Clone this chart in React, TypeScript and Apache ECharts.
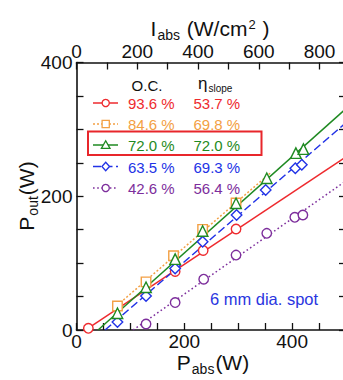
import React, { useEffect, useRef } from "react";
import * as echarts from "echarts";

// ---- data ----
const seriesNames = ["O.C. 93.6 %", "O.C. 84.6 %", "O.C. 72.0 %", "O.C. 63.5 %", "O.C. 42.6 %"];
const ocLabels = ["93.6 %", "84.6 %", "72.0 %", "63.5 %", "42.6 %"];
const slopeLabels = ["53.7 %", "69.8 %", "72.0 %", "69.3 %", "56.4 %"];

const redPabs = [22, 183, 235, 296];
const redPout = [2.5, 87.5, 119, 151];
const orangePabs = [76, 129, 180, 234, 296];
const orangePout = [36, 72, 111, 150.5, 190];
const greenPabs = [76, 129, 183, 234, 296, 353, 407, 421];
const greenPout = [25, 64, 106, 148, 189.5, 227, 264.5, 270.5];
const bluePabs = [76, 129, 183, 234, 297, 351, 406, 418];
const bluePout = [12, 51, 92, 132, 172, 209.5, 242, 247];
const purplePabs = [129, 183, 236, 296, 353, 405, 420];
const purplePout = [9, 41, 76, 112, 144.5, 168.5, 172];

// linear fits (endpoints)
const redFit = [[22, 2.7], [500, 259]];
const orangeFit = [[70, 33], [360, 235]];
const greenFit = [[40, 0], [500, 331]];
const blueFit = [[53, 0], [500, 310]];
const purpleFit = [[105, 0], [500, 223]];

const xTicksMajor = [0, 200, 400];
const yTicksMajor = [0, 200, 400];
const topTicksMajor = [0, 200, 400, 600, 800];

const colors = ["#ee2a2e", "#f3a044", "#1f8a22", "#2233e6", "#7d2e9c"];
const symbols = ["circle", "rect", "triangle", "diamond", "circle"];
const dashes: any[] = ["solid", [2, 2], "solid", [8, 3.5], [1.6, 2.6]];

const FONT = '"Liberation Sans", Arial, Helvetica, sans-serif';

function zip(a: number[], b: number[]) {
  return a.map((v, i) => [v, b[i]]);
}

export default function App() {
  const ref = useRef<HTMLDivElement>(null);
  useEffect(() => {
    if (!ref.current) return;
    const chart = echarts.init(ref.current, undefined, { renderer: "svg" });

    const pts = [
      zip(redPabs, redPout),
      zip(orangePabs, orangePout),
      zip(greenPabs, greenPout),
      zip(bluePabs, bluePout),
      zip(purplePabs, purplePout),
    ];
    const fits = [redFit, orangeFit, greenFit, blueFit, purpleFit];
    const order = [4, 0, 3, 1, 2];
    const series: any[] = [];
    order.forEach((i) => {
      series.push({
        type: "line",
        name: seriesNames[i] + " fit",
        data: fits[i],
        showSymbol: false,
        lineStyle: { color: colors[i], width: 1.5, type: dashes[i] },
        z: 2,
        silent: true,
      });
    });
    order.forEach((i) => {
      series.push({
        type: "scatter",
        name: seriesNames[i],
        data: pts[i],
        symbol: symbols[i],
        symbolSize: symbols[i] === "rect" ? 9.5 : symbols[i] === "circle" ? 9.5 : 10.5,
        itemStyle: { color: "#fff", borderColor: colors[i], borderWidth: 1.4, opacity: 1 },
        z: 3,
      });
    });

    // legend drawing
    const rowY = [103, 124, 145, 166.5, 188];
    const graphic: any[] = [];
    const mx = 105.7;
    rowY.forEach((y, i) => {
      const c = colors[i];
      graphic.push({
        type: "line",
        shape: { x1: 93, y1: y, x2: 118, y2: y },
        style: {
          stroke: c,
          lineWidth: 1.5,
          lineDash: dashes[i] === "solid" ? null : dashes[i],
        },
      });
      const mStyle = { fill: "#fff", stroke: c, lineWidth: 1.3 };
      if (symbols[i] === "circle") {
        graphic.push({ type: "circle", shape: { cx: mx, cy: y, r: 3.6 }, style: mStyle });
      } else if (symbols[i] === "rect") {
        graphic.push({ type: "rect", shape: { x: mx - 3.6, y: y - 3.6, width: 7.2, height: 7.2 }, style: mStyle });
      } else if (symbols[i] === "triangle") {
        graphic.push({
          type: "polygon",
          shape: { points: [[mx, y - 4.2], [mx + 4.3, y + 3.4], [mx - 4.3, y + 3.4]] },
          style: mStyle,
        });
      } else {
        graphic.push({
          type: "polygon",
          shape: { points: [[mx, y - 4.3], [mx + 3.8, y], [mx, y + 4.3], [mx - 3.8, y]] },
          style: mStyle,
        });
      }
      graphic.push({
        type: "text",
        x: 128,
        y: y + 0.5,
        style: { text: ocLabels[i], fill: c, fontSize: 15, fontFamily: FONT, align: "left", verticalAlign: "middle" },
      });
      graphic.push({
        type: "text",
        x: 193.5,
        y: y + 0.5,
        style: { text: slopeLabels[i], fill: c, fontSize: 15, fontFamily: FONT, align: "left", verticalAlign: "middle" },
      });
    });
    // headers
    graphic.push({
      type: "text",
      x: 147,
      y: 85,
      style: { text: "O.C.", fill: "#111", fontSize: 15, fontFamily: FONT, align: "center", verticalAlign: "middle" },
    });
    graphic.push({
      type: "text",
      x: 198,
      y: 84,
      style: {
        text: "{e|η}{s|slope}",
        fill: "#111",
        fontFamily: FONT,
        align: "left",
        verticalAlign: "middle",
        rich: {
          e: { fontSize: 17, fontFamily: FONT, fill: "#111", lineHeight: 18, verticalAlign: "top" },
          s: { fontSize: 10, fontFamily: FONT, fill: "#111", lineHeight: 10, padding: [8, 0, 0, 1], verticalAlign: "top" },
        },
      },
    });
    // highlight box
    graphic.push({
      type: "rect",
      shape: { x: 88, y: 131.5, width: 173.5, height: 23.5 },
      style: { fill: "none", stroke: "#e8262b", lineWidth: 2 },
    });
    // spot annotation
    graphic.push({
      type: "text",
      x: 264,
      y: 298.5,
      style: { text: "6 mm dia. spot", fill: "#2a36e0", fontSize: 16.5, fontFamily: FONT, align: "center", verticalAlign: "middle" },
    });
    // axis titles
    const titleRich = {
      m: { fontSize: 21, fontFamily: FONT, fill: "#111", lineHeight: 21, verticalAlign: "top" },
      s: { fontSize: 14, fontFamily: FONT, fill: "#111", lineHeight: 14, padding: [10, 1, 0, 1], verticalAlign: "top" },
      p: { fontSize: 13, fontFamily: FONT, fill: "#111", lineHeight: 13, padding: [0, 1, 0, 1], verticalAlign: "top" },
    };
    graphic.push({
      type: "text",
      x: 213,
      y: 362,
      style: { text: "{m|P}{s|abs}{m|(W)}", align: "center", verticalAlign: "middle", rich: titleRich },
    });
    graphic.push({
      type: "text",
      x: 210,
      y: 28,
      style: { text: "{m|I}{s|abs}{m| (W/cm}{p|2}{m| )}", align: "center", verticalAlign: "middle", rich: titleRich },
    });
    graphic.push({
      type: "text",
      x: 26,
      y: 196,
      rotation: Math.PI / 2,
      style: { text: "{m|P}{s|out}{m|(W)}", align: "center", verticalAlign: "middle", rich: titleRich },
    });

    const axisCommon = {
      axisLine: { show: true, onZero: false, lineStyle: { color: "#111", width: 1.6 } },
      axisTick: { show: true, inside: true, length: 7, lineStyle: { color: "#111", width: 1.3 } },
      splitLine: { show: false },
      minorTick: { show: false },
    };
    const labelStyle = { color: "#111", fontSize: 19, fontFamily: FONT };

    chart.setOption({
      animation: false,
      backgroundColor: "#fff",
      grid: { left: 76.5, right: 4, top: 62.5, bottom: 50, containLabel: false },
      xAxis: [
        {
          type: "value",
          position: "bottom",
          min: 0,
          max: 500,
          interval: 50,
          ...axisCommon,
          axisLabel: {
            ...labelStyle,
            margin: 2,
            formatter: (v: number) => (xTicksMajor.includes(v) ? String(v) : ""),
          },
        },
        {
          type: "value",
          position: "top",
          min: 0,
          max: 887,
          interval: 100,
          ...axisCommon,
          axisLabel: {
            ...labelStyle,
            margin: 2,
            formatter: (v: number) => (topTicksMajor.includes(v) ? String(v) : ""),
          },
        },
      ],
      yAxis: [
        {
          type: "value",
          position: "left",
          min: 0,
          max: 400,
          interval: 50,
          ...axisCommon,
          axisLabel: {
            ...labelStyle,
            margin: 4,
            formatter: (v: number) => (yTicksMajor.includes(v) ? String(v) : ""),
          },
        },
        {
          type: "value",
          position: "right",
          min: 0,
          max: 400,
          interval: 50,
          ...axisCommon,
          axisLabel: { show: false },
        },
      ],
      graphic,
      series,
    });
    return () => chart.dispose();
  }, []);

  return (
    <div
      ref={ref}
      style={{ position: "fixed", left: 0, top: 0, width: 350, height: 380, background: "#fff" }}
    />
  );
}
